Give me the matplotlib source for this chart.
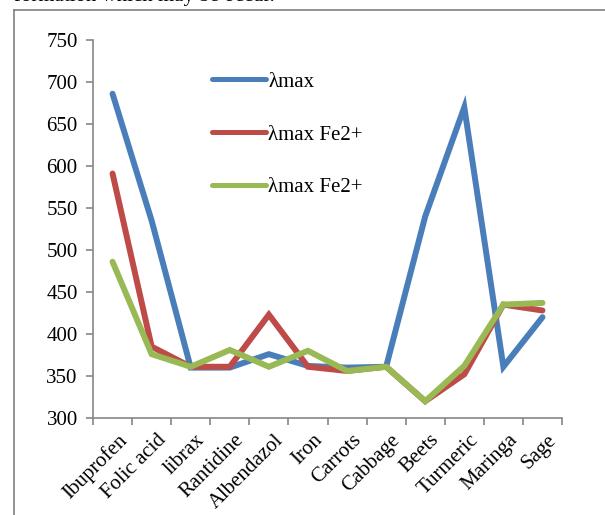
import matplotlib
matplotlib.use("Agg")
import matplotlib.pyplot as plt
from matplotlib.lines import Line2D
import numpy as np

categories = ["Ibuprofen", "Folic acid", "librax", "Rantidine", "Albendazol", "Iron",
              "Carrots", "Cabbage", "Beets", "Turmeric", "Maringa", "Sage"]
lambda_max = [686, 535, 360, 360, 376, 362, 360, 361, 540, 670, 361, 420]
lambda_fe_a = [591, 385, 361, 361, 423, 361, 356, 361, 320, 352, 435, 428]
lambda_fe_b = [486, 376, 361, 381, 361, 380, 356, 361, 320, 362, 435, 437]
series_names = ["λmax", "λmax Fe2+", "λmax Fe2+"]
colors = ["#4A7EBB", "#BE4B48", "#98B954"]
y_ticks = [300, 350, 400, 450, 500, 550, 600, 650, 700, 750]

plt.rcParams["font.family"] = ["Liberation Serif", "DejaVu Serif"]
FS = 15

W, H = 605, 515
fig = plt.figure(figsize=(W / 100, H / 100), dpi=100)

# surrounding frame (left and top edges visible)
fig.add_artist(Line2D([14 / W, 14 / W], [0, 1 - 10 / H], color="#808080", lw=1.2,
                      transform=fig.transFigure))
fig.add_artist(Line2D([14 / W, 1], [1 - 10 / H, 1 - 10 / H], color="#808080", lw=1.2,
                      transform=fig.transFigure))
fig.text(14 / W, 1 - 1 / H, "formation which may be occur.", fontsize=FS,
         ha="left", va="baseline")

ax = fig.add_axes([93 / W, (H - 418) / H, (562 - 93) / W, (418 - 40) / H])
x = np.arange(len(categories))
for vals, name, c in zip([lambda_max, lambda_fe_a, lambda_fe_b], series_names, colors):
    ax.plot(x, vals, color=c, lw=4.3, solid_capstyle="round", solid_joinstyle="miter",
            label=name)

ax.set_xlim(-0.5, len(categories) - 0.5)
ax.set_ylim(300, 750)
ax.set_yticks(y_ticks)
ax.set_yticklabels([str(v) for v in y_ticks], fontsize=FS)
ax.set_xticks(np.arange(len(categories) + 1) - 0.5)
ax.set_xticklabels([])
ax.set_xticks(x + 0.12, minor=True)
ax.set_xticklabels(categories, minor=True, rotation=45, ha="right", va="top",
                   rotation_mode="anchor", fontsize=FS)
ax.tick_params(axis="x", which="minor", length=0, pad=9)
ax.tick_params(axis="both", which="major", length=5, width=1.2, color="#868686",
               direction="out")
ax.tick_params(axis="y", pad=6)
for s in ["top", "right"]:
    ax.spines[s].set_visible(False)
for s in ["left", "bottom"]:
    ax.spines[s].set_color("#868686")
    ax.spines[s].set_linewidth(1.2)

leg = ax.legend(loc="upper left",
                bbox_to_anchor=((212 - 93) / (562 - 93), 1 - (72 - 40) / (418 - 40)),
                frameon=False, fontsize=FS, handlelength=2.6, handletextpad=0.1,
                labelspacing=1.6, borderpad=0, borderaxespad=0)
for h in leg.get_lines():
    h.set_linewidth(3.6)

fig.savefig("out.png", dpi=100)
